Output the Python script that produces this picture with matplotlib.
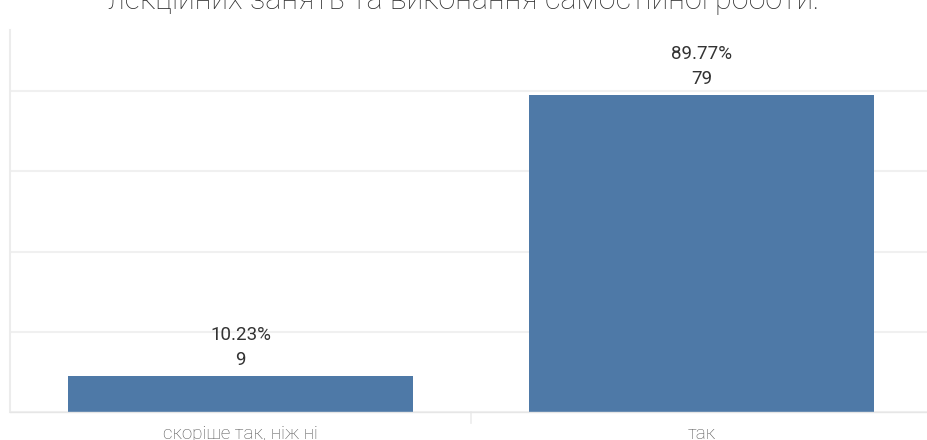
import matplotlib.pyplot as plt
import numpy as np

categories = ['скоріше так, ніж ні', 'так']
counts = [9, 79]
percents = ['10.23%', '89.77%']
title = 'лекційних занять та виконання самостійної роботи:'

bar_color = '#4e79a7'
grid_color = '#f0f0f0'

fig = plt.figure(figsize=(9.27, 4.4), dpi=100)
ax = fig.add_axes([10 / 927, 28 / 440, 922 / 927, 382 / 440])

x = np.arange(len(categories))
bars = ax.bar(x, counts, width=0.75, color=bar_color, zorder=2)

ax.set_xlim(-0.5, len(categories) - 0.5)
ax.set_ylim(0, 95.3)
ax.set_yticks([0, 20, 40, 60, 80])
ax.set_yticklabels([])
ax.tick_params(axis='y', length=0)
ax.grid(axis='y', color=grid_color, linewidth=1.5, zorder=0)

ax.set_xticks(x)
ax.set_xticklabels(categories, fontsize=13.5, color='#555555', family='Roboto',
                   fontweight='light')
ax.tick_params(axis='x', length=0, pad=9)

for s in ['top', 'right']:
    ax.spines[s].set_visible(False)
ax.spines['left'].set_color('#ececec')
ax.spines['left'].set_linewidth(1.5)
ax.spines['bottom'].set_color('#e6e6e6')
ax.spines['bottom'].set_linewidth(1)

# divider between the two categories
for xv in np.arange(len(categories) - 1) + 0.5:
    ax.plot([xv, xv], [0, -0.03], transform=ax.get_xaxis_transform(),
            color='#ececec', linewidth=1.2, clip_on=False)

for b, c, p in zip(bars, counts, percents):
    cx = b.get_x() + b.get_width() / 2
    ax.annotate(str(c), (cx, c), xytext=(0, 16), textcoords='offset pixels',
                ha='center', va='center', fontsize=13.5, color='#333333', family='Roboto')
    ax.annotate(p, (cx, c), xytext=(0, 41), textcoords='offset pixels',
                ha='center', va='center', fontsize=13.5, color='#333333', family='Roboto')

fig.text(0.5, 1 - 9 / 440, title, ha='center', va='baseline', fontsize=22,
         color='#333333', family='Roboto', fontweight='light')

fig.savefig('out.png', dpi=100)
